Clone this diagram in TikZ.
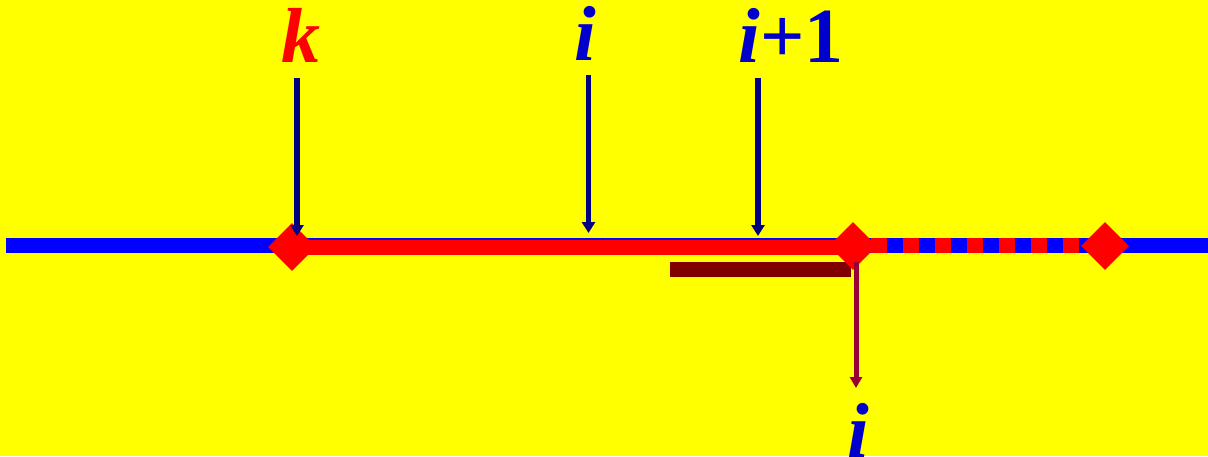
\documentclass[tikz,border=0pt]{standalone}
\usepackage{fontspec}
\setmainfont{Liberation Serif}
\usetikzlibrary{shapes.geometric,arrows.meta}
\definecolor{bgyellow}{HTML}{FFFF00}
\definecolor{lineblue}{HTML}{0000FF}
\definecolor{linered}{HTML}{FF0000}
\definecolor{navyarrow}{HTML}{000080}
\definecolor{labelblue}{HTML}{0000CC}
\definecolor{barmaroon}{HTML}{800000}
\definecolor{arrowmaroon}{HTML}{990033}
\tikzset{
  lbl/.style={font=\fontsize{78}{78}\selectfont\bfseries\itshape, inner sep=0pt, anchor=base},
  mark diamond/.style={diamond, fill=linered, draw=none, minimum width=48pt, minimum height=48pt, inner sep=0pt, aspect=1},
  downarrow/.style={draw=navyarrow, line width=5.5pt, -{Triangle[width=13pt,length=11pt]}},
}
\begin{document}
\begin{tikzpicture}[x=1pt,y=-1pt]
\useasboundingbox (0,0) rectangle (1208,456);
\fill[bgyellow] (0,0) rectangle (1208,456);
% main blue line
\coordinate (L0) at (6,245.5);
\coordinate (L1) at (1208,245.5);
\draw[lineblue, line width=15pt] (L0) -- (L1);
% red segment
\coordinate (R0) at (292,247.5);
\coordinate (R1) at (853,247.5);
\draw[linered, line width=15pt] (R0) -- (R1);
% dashed red on blue
\coordinate (D0) at (871,245.5);
\coordinate (D1) at (1081,245.5);
\draw[linered, line width=15pt, dash pattern=on 16pt off 16pt] (D0) -- (D1);
% maroon bar
\fill[barmaroon] (670,262) rectangle (851,277);
% diamonds
\node[mark diamond] (dk) at (292,247) {};
\node[mark diamond] (dm) at (853,246) {};
\node[mark diamond] (dr) at (1105,246) {};
% labels
\node[lbl, text=linered] (lk) at (301,62) {k};
\node[lbl, text=labelblue] (li) at (585,60) {i};
\node[lbl, text=labelblue] (li1) at (791,62) {i\upshape+1};
\node[lbl, text=labelblue] (lb) at (858,457) {i};
% arrows
\coordinate (ak0) at (297,78);
\coordinate (ak1) at (297,236);
\draw[downarrow] (ak0) -- (ak1);
\coordinate (ai0) at (588.5,75);
\coordinate (ai1) at (588.5,233);
\draw[downarrow] (ai0) -- (ai1);
\coordinate (aj0) at (758,78);
\coordinate (aj1) at (758,236);
\draw[downarrow] (aj0) -- (aj1);
\coordinate (am0) at (856,262);
\coordinate (am1) at (856,388);
\draw[draw=arrowmaroon, line width=5pt, -{Triangle[width=12pt,length=11pt]}] (am0) -- (am1);
\end{tikzpicture}
\end{document}
